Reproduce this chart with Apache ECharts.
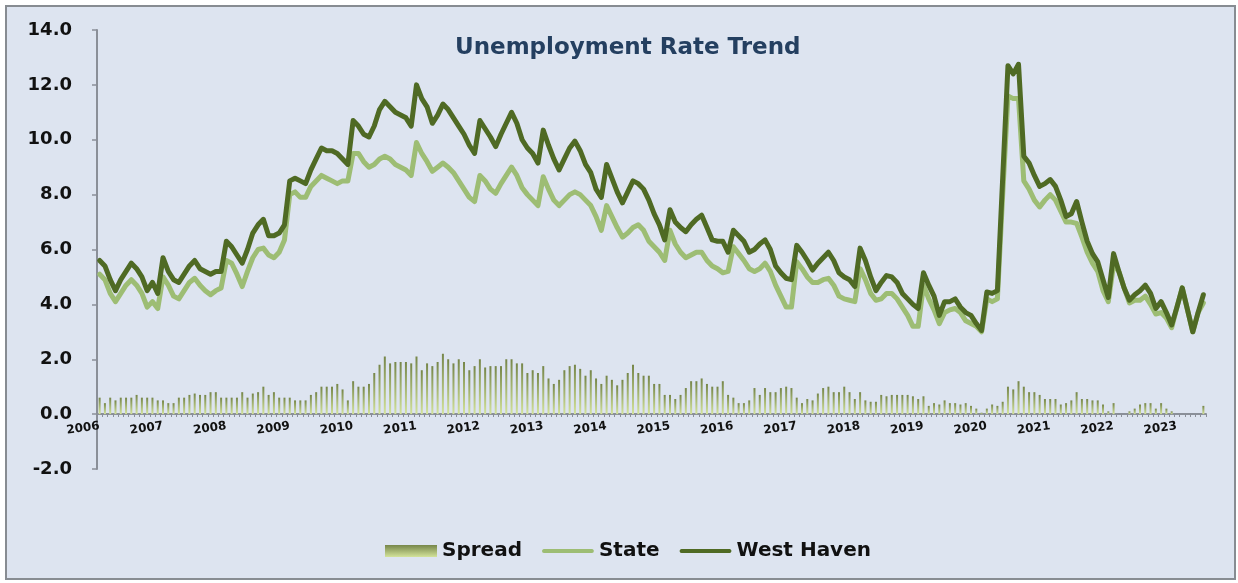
<!DOCTYPE html>
<html><head><meta charset="utf-8">
<script src="https://cdn.jsdelivr.net/npm/echarts@6/dist/echarts.min.js"></script>
<style>
html,body{margin:0;padding:0;background:#ffffff}
#frame{position:absolute;left:5px;top:5px;width:1227px;height:571px;border:2px solid #878c92;background:#dde4f0}
#c{position:absolute;left:0;top:0;width:1238px;height:583px}
</style>
</head><body><div id="frame"></div><div id="c"></div>
<script>
// Tick labels (years) and months shown in the last year
const years = ['2006','2007','2008','2009','2010','2011','2012','2013','2014','2015','2016','2017','2018','2019','2020','2021','2022','2023'];
const lastYearMonths = 6;

// West Haven monthly unemployment rate
const westHaven = [
  5.6, 5.4, 4.9, 4.5, 4.9, 5.2, 5.5, 5.3, 5.0, 4.5, 4.8, 4.4,
  5.7, 5.2, 4.9, 4.8, 5.1, 5.4, 5.6, 5.3, 5.2, 5.1, 5.2, 5.2,
  6.3, 6.1, 5.8, 5.5, 6.0, 6.6, 6.9, 7.1, 6.5, 6.5, 6.6, 6.9,
  8.5, 8.6, 8.5, 8.4, 8.9, 9.3, 9.7, 9.6, 9.6, 9.5, 9.3, 9.1,
  10.7, 10.5, 10.2, 10.1, 10.5, 11.1, 11.4, 11.2, 11.0, 10.9, 10.8, 10.5,
  12.0, 11.5, 11.2, 10.6, 10.9, 11.3, 11.1, 10.8, 10.5, 10.2, 9.8, 9.5,
  10.7, 10.4, 10.1, 9.75, 10.2, 10.6, 11.0, 10.6, 10.0, 9.7, 9.5, 9.15,
  10.35, 9.8, 9.3, 8.9, 9.3, 9.7, 9.95, 9.6, 9.1, 8.8, 8.2, 7.9,
  9.1, 8.6, 8.1, 7.7, 8.1, 8.5, 8.4, 8.2, 7.8, 7.3, 6.9, 6.35,
  7.45, 7.0, 6.8, 6.65, 6.9, 7.1, 7.25, 6.8, 6.35, 6.3, 6.3, 5.9,
  6.7, 6.5, 6.3, 5.9, 6.0, 6.2, 6.35, 6.0, 5.4, 5.15, 4.95, 4.9,
  6.15, 5.9, 5.6, 5.25, 5.5, 5.7, 5.9, 5.6, 5.15, 5.0, 4.9, 4.65,
  6.05, 5.6, 5.0, 4.5, 4.8, 5.05, 5.0, 4.8, 4.4, 4.2, 4.0, 3.85,
  5.15, 4.7, 4.3, 3.6, 4.1, 4.1, 4.2, 3.9, 3.7, 3.6, 3.3, 3.05,
  4.45, 4.4, 4.5, 8.6, 12.7, 12.4, 12.75, 9.4, 9.15, 8.7, 8.3, 8.4,
  8.55, 8.3, 7.8, 7.2, 7.3, 7.75, 7.0, 6.3, 5.85, 5.55, 4.9, 4.25,
  5.85, 5.2, 4.6, 4.15, 4.35, 4.5, 4.7, 4.4, 3.85, 4.1, 3.7, 3.25,
  3.9, 4.6, 3.8, 3.0, 3.7, 4.35
];

// State monthly unemployment rate
const state = [
  5.1, 4.9, 4.4, 4.1, 4.4, 4.7, 4.9, 4.7, 4.4, 3.9, 4.1, 3.85,
  5.0, 4.7, 4.3, 4.2, 4.5, 4.8, 4.95, 4.7, 4.5, 4.35, 4.5, 4.6,
  5.6, 5.5, 5.1, 4.65, 5.2, 5.7, 6.0, 6.05, 5.8, 5.7, 5.9, 6.35,
  8.0, 8.1, 7.9, 7.9, 8.3, 8.5, 8.7, 8.6, 8.5, 8.4, 8.5, 8.5,
  9.5, 9.5, 9.2, 9.0, 9.1, 9.3, 9.4, 9.3, 9.1, 9.0, 8.9, 8.7,
  9.9, 9.5, 9.2, 8.85, 9.0, 9.15, 9.0, 8.8, 8.5, 8.2, 7.9, 7.75,
  8.7, 8.5, 8.2, 8.05, 8.4, 8.7, 9.0, 8.7, 8.25, 8.0, 7.8, 7.6,
  8.65, 8.2, 7.8, 7.6, 7.8, 8.0, 8.1, 8.0, 7.8, 7.6, 7.2, 6.7,
  7.6, 7.2, 6.8, 6.45, 6.6, 6.8, 6.9, 6.7, 6.3, 6.1, 5.9, 5.6,
  6.7, 6.2, 5.9, 5.7, 5.8, 5.9, 5.9, 5.6, 5.4, 5.3, 5.15, 5.2,
  6.1, 5.85, 5.6, 5.3, 5.2, 5.3, 5.5, 5.2, 4.7, 4.3, 3.9, 3.9,
  5.55, 5.3, 5.0, 4.8, 4.8, 4.9, 4.95, 4.7, 4.3, 4.2, 4.15, 4.1,
  5.3, 4.9, 4.4, 4.15, 4.2, 4.4, 4.4, 4.2, 3.9, 3.6, 3.2, 3.2,
  4.7, 4.2, 3.8, 3.3, 3.7, 3.8, 3.85, 3.7, 3.4, 3.3, 3.2, 3.0,
  4.2, 4.1, 4.2, 8.0, 11.6, 11.5, 11.5, 8.5, 8.2, 7.8, 7.55, 7.8,
  8.0, 7.8, 7.4, 7.0, 7.0, 6.95, 6.45, 5.9, 5.5, 5.2, 4.5, 4.1,
  5.45, 5.2, 4.6, 4.05, 4.15, 4.15, 4.3, 4.0, 3.65, 3.7, 3.5, 3.15,
  3.9, 4.6, 3.8, 3.0, 3.7, 4.05
];

// Spread (bars)
const spread = [
  0.6, 0.4, 0.6, 0.5, 0.6, 0.6, 0.6, 0.7, 0.6, 0.6, 0.6, 0.5,
  0.5, 0.4, 0.4, 0.6, 0.6, 0.7, 0.75, 0.7, 0.7, 0.8, 0.8, 0.6,
  0.6, 0.6, 0.6, 0.8, 0.6, 0.75, 0.8, 1.0, 0.7, 0.8, 0.6, 0.6,
  0.6, 0.5, 0.5, 0.5, 0.7, 0.8, 1.0, 1.0, 1.0, 1.1, 0.9, 0.5,
  1.2, 1.0, 1.0, 1.1, 1.5, 1.8, 2.1, 1.85, 1.9, 1.9, 1.9, 1.85,
  2.1, 1.6, 1.85, 1.75, 1.9, 2.2, 2.0, 1.85, 2.0, 1.9, 1.6, 1.75,
  2.0, 1.7, 1.75, 1.75, 1.75, 2.0, 2.0, 1.85, 1.85, 1.5, 1.6, 1.5,
  1.75, 1.3, 1.1, 1.25, 1.6, 1.75, 1.8, 1.65, 1.4, 1.6, 1.3, 1.1,
  1.4, 1.25, 1.05, 1.25, 1.5, 1.8, 1.5, 1.4, 1.4, 1.1, 1.1, 0.7,
  0.7, 0.55, 0.7, 0.95, 1.2, 1.2, 1.3, 1.1, 1.0, 1.0, 1.2, 0.7,
  0.6, 0.4, 0.4, 0.5, 0.95, 0.7, 0.95, 0.8, 0.8, 0.95, 1.0, 0.95,
  0.6, 0.4, 0.55, 0.5, 0.75, 0.95, 1.0, 0.8, 0.8, 1.0, 0.8, 0.55,
  0.8, 0.5, 0.45, 0.45, 0.7, 0.65, 0.7, 0.7, 0.7, 0.7, 0.65, 0.55,
  0.65, 0.3, 0.4, 0.35, 0.5, 0.4, 0.4, 0.35, 0.4, 0.3, 0.2, 0.05,
  0.2, 0.35, 0.3, 0.45, 1.0, 0.9, 1.2, 1.0, 0.8, 0.8, 0.7, 0.55,
  0.55, 0.55, 0.35, 0.4, 0.5, 0.8, 0.55, 0.55, 0.5, 0.5, 0.35, 0.1,
  0.4, 0.0, 0.0, 0.1, 0.2, 0.35, 0.4, 0.4, 0.2, 0.4, 0.2, 0.1,
  0.0, 0.0, 0.0, 0.0, 0.0, 0.3
];

const categories = [];
years.forEach((y, k) => {
  const n = k === years.length - 1 ? lastYearMonths : 12;
  for (let m = 1; m <= n; m++) categories.push(y + '-' + String(m).padStart(2, '0'));
});

const FONT = 'DejaVu Sans';
const DARK = '#4f6a24';
const LIGHT = '#9dbd74';
// thin horizontal bar icon inside a 52x12 box (tiny corner specks fix the box)
const LINE_ICON = 'path://M0,0L0.01,0L0.01,0.01Z M2,4L50,4C52.5,4 52.5,8 50,8L2,8C-0.5,8 -0.5,4 2,4Z M51.99,12L52,12L52,11.99Z';
const chart = echarts.init(document.getElementById('c'), null, {renderer: 'canvas'});
chart.setOption({
  backgroundColor: 'transparent',
  animation: false,
  title: {
    text: 'Unemployment Rate Trend',
    left: 450,
    top: 32,
    textStyle: {fontFamily: FONT, fontWeight: 'bold', fontSize: 23, color: '#243f60'}
  },
  legend: {
    left: 380,
    top: 536,
    itemWidth: 52,
    itemHeight: 12,
    itemGap: 20,
    symbolKeepAspect: false,
    textStyle: {fontFamily: FONT, fontWeight: 'bold', fontSize: 20, color: '#111111'},
    data: [
      {name: 'Spread', icon: 'rect'},
      {name: 'State', icon: LINE_ICON},
      {name: 'West Haven', icon: LINE_ICON}
    ]
  },
  grid: {left: 97, right: 32, top: 30, bottom: 114, containLabel: false},
  xAxis: {
    type: 'category',
    data: categories,
    boundaryGap: true,
    offset: -55,
    axisLine: {onZero: false, lineStyle: {color: '#8a8f98', width: 2}},
    axisTick: {show: true, interval: 0, length: 3, lineStyle: {color: '#8a8f98', width: 1}},
    axisLabel: {
      interval: (idx) => idx % 12 === 0,
      formatter: (v) => v.slice(0, 4),
      rotate: 8,
      margin: 12,
      fontFamily: FONT, fontWeight: 'bold', fontSize: 12, color: '#111111'
    },
    splitLine: {show: false}
  },
  yAxis: {
    type: 'value',
    min: -2, max: 14, interval: 2,
    axisLine: {show: true, lineStyle: {color: '#8a8f98', width: 2}},
    axisTick: {show: true, length: 5, lineStyle: {color: '#8a8f98', width: 1.5}},
    axisLabel: {
      formatter: (v) => v.toFixed(1),
      margin: 25,
      fontFamily: FONT, fontWeight: 'bold', fontSize: 18, color: '#111111'
    },
    splitLine: {show: false}
  },
  series: [
    {
      name: 'Spread', type: 'bar', data: spread, barWidth: 2,
      itemStyle: {color: {type: 'linear', x: 0, y: 0, x2: 0, y2: 1,
        colorStops: [{offset: 0, color: '#76864a'}, {offset: 1, color: '#d3e39a'}]}},
      z: 1
    },
    {
      name: 'State', type: 'line', data: state, symbol: 'none', smooth: false,
      lineStyle: {color: LIGHT, width: 5, join: 'round', cap: 'round'},
      itemStyle: {color: LIGHT}, z: 2
    },
    {
      name: 'West Haven', type: 'line', data: westHaven, symbol: 'none', smooth: false,
      lineStyle: {color: DARK, width: 5, join: 'round', cap: 'round'},
      itemStyle: {color: DARK}, z: 3
    }
  ]
});
</script>
</body></html>
